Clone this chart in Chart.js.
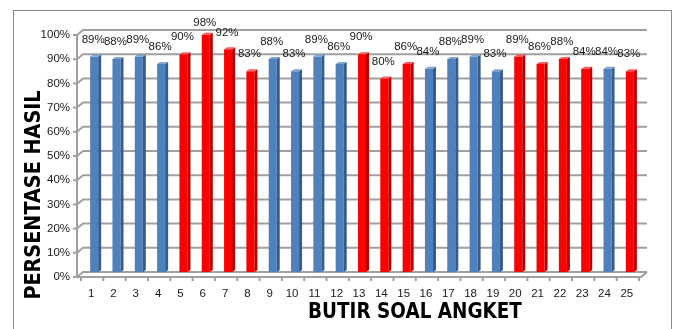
<!DOCTYPE html>
<html>
<head>
<meta charset="utf-8">
<script src="https://cdn.jsdelivr.net/npm/chart.js@4/dist/chart.umd.min.js"></script>
<style>
  html, body { margin: 0; padding: 0; background: #fff; overflow: hidden; }
  #wrap { position: relative; width: 677px; height: 329px; }
  #frame { position: absolute; left: 13px; top: 10px; width: 659px; height: 340px;
           border: 1.5px solid #8a8a8a; box-sizing: border-box; }
  canvas { position: absolute; left: 0; top: 0; }
</style>
</head>
<body>
<div id="wrap">
  <div id="frame"></div>
  <canvas id="c" width="677" height="329"></canvas>
</div>
<script>
// Butir soal angket 1..25
const categories = ['1','2','3','4','5','6','7','8','9','10','11','12','13','14','15','16','17','18','19','20','21','22','23','24','25'];
// Persentase hasil per butir (%)
const percentValues = [89, 88, 89, 86, 90, 98, 92, 83, 88, 83, 89, 86, 90, 80, 86, 84, 88, 89, 83, 89, 86, 88, 84, 84, 83];
// Kelompok warna per butir: 'b' = biru, 'r' = merah
const groups = ['b','b','b','b','r','r','r','r','b','b','b','b','r','r','r','b','b','b','b','r','r','r','r','b','r'];
const yTickValues = [0, 10, 20, 30, 40, 50, 60, 70, 80, 90, 100];

const palette = {
  b: { front: '#4F81BD', side: '#375C8C', top: '#7FA3D0' },
  r: { front: '#FF0000', side: '#B80000', top: '#FF5A5A' }
};

const DEPTH_X = 6, DEPTH_Y = 5;
const FONT = '"Liberation Sans", Arial, sans-serif';
const TITLE_FONT = 'bold 20px "DejaVu Sans", sans-serif';

const pseudo3d = {
  id: 'pseudo3d',
  beforeDatasetsDraw(chart) {
    const { ctx, chartArea: a, scales: { y } } = chart;
    ctx.save();
    ctx.strokeStyle = '#A0A0A0';
    ctx.lineWidth = 2;
    // back wall grid lines and left wall diagonals
    yTickValues.forEach(v => {
      const py = y.getPixelForValue(v);
      ctx.beginPath();
      ctx.moveTo(a.left - DEPTH_X, py + DEPTH_Y);
      ctx.lineTo(a.left, py);
      ctx.lineTo(a.right + DEPTH_X, py);
      ctx.stroke();
      // small tick on the axis
      ctx.beginPath();
      ctx.moveTo(a.left - DEPTH_X - 4, py + DEPTH_Y);
      ctx.lineTo(a.left - DEPTH_X, py + DEPTH_Y);
      ctx.stroke();
    });
    // vertical axis line
    ctx.beginPath();
    ctx.moveTo(a.left - DEPTH_X, y.getPixelForValue(100) + DEPTH_Y);
    ctx.lineTo(a.left - DEPTH_X, a.bottom + DEPTH_Y);
    ctx.stroke();
    // floor front edge and right side
    ctx.beginPath();
    ctx.moveTo(a.left - DEPTH_X, a.bottom + DEPTH_Y);
    ctx.lineTo(a.right, a.bottom + DEPTH_Y);
    ctx.lineTo(a.right + DEPTH_X, a.bottom);
    ctx.stroke();
    ctx.restore();
  },
  afterDatasetsDraw(chart) {
    const { ctx, chartArea: a, scales: { x } } = chart;
    const meta = chart.getDatasetMeta(0);
    ctx.save();
    meta.data.forEach((bar, i) => {
      const col = palette[groups[i]];
      const half = bar.width / 2;
      const r = bar.x + half, l = bar.x - half;
      const d = 3, dy = 2;
      // side face
      ctx.fillStyle = col.side;
      ctx.beginPath();
      ctx.moveTo(r, bar.y);
      ctx.lineTo(r + d, bar.y - dy);
      ctx.lineTo(r + d, bar.base - dy);
      ctx.lineTo(r, bar.base);
      ctx.closePath();
      ctx.fill();
      // top face
      ctx.fillStyle = col.top;
      ctx.beginPath();
      ctx.moveTo(l, bar.y);
      ctx.lineTo(l + d, bar.y - dy);
      ctx.lineTo(r + d, bar.y - dy);
      ctx.lineTo(r, bar.y);
      ctx.closePath();
      ctx.fill();
      // value label
      ctx.fillStyle = '#1a1a1a';
      ctx.font = '11.5px ' + FONT;
      ctx.textAlign = 'center';
      ctx.textBaseline = 'middle';
      ctx.fillText(percentValues[i] + '%', bar.x - 1, Math.max(bar.y - 17, 23));
    });
    // category tick marks on the floor front edge
    ctx.strokeStyle = '#A0A0A0';
    ctx.lineWidth = 2;
    const step = x.getPixelForTick(1) - x.getPixelForTick(0);
    for (let i = 0; i <= categories.length; i++) {
      const px = x.getPixelForTick(0) - step / 2 + i * step - 2;
      ctx.beginPath();
      ctx.moveTo(px, a.bottom + DEPTH_Y);
      ctx.lineTo(px, a.bottom + DEPTH_Y + 4);
      ctx.stroke();
    }
    // axis titles
    ctx.fillStyle = '#000';
    ctx.font = TITLE_FONT;
    ctx.textAlign = 'center';
    ctx.textBaseline = 'middle';
    ctx.save();
    ctx.translate(415, 313);
    ctx.scale(0.92, 1.02);
    ctx.fillText('BUTIR SOAL ANGKET', 0, 0);
    ctx.restore();
    ctx.translate(35, 195);
    ctx.rotate(-Math.PI / 2);
    ctx.scale(0.96, 1.05);
    ctx.fillText('PERSENTASE HASIL', 0, 0);
    ctx.restore();
  }
};

new Chart(document.getElementById('c'), {
  type: 'bar',
  data: {
    labels: categories,
    datasets: [{
      data: percentValues,
      backgroundColor: groups.map(g => palette[g].front),
      borderWidth: 0,
      barPercentage: 0.36,
      categoryPercentage: 1.0
    }]
  },
  options: {
    responsive: false,
    animation: false,
    events: [],
    layout: { padding: { left: 0, right: 36, top: 30, bottom: 0 } },
    plugins: { legend: { display: false }, tooltip: { enabled: false } },
    scales: {
      x: {
        grid: { display: false, drawTicks: false },
        border: { display: false },
        ticks: {
          color: '#1a1a1a', font: { size: 11.5, family: FONT },
          padding: 15, labelOffset: -3, maxRotation: 0, autoSkip: false
        },
        afterFit(s) { s.height = 329 - 272; }
      },
      y: {
        min: 0, max: 100,
        grid: { display: false, drawTicks: false },
        border: { display: false },
        afterBuildTicks(s) { s.ticks = yTickValues.map(v => ({ value: v })); },
        ticks: {
          color: '#1a1a1a', font: { size: 11.5, family: FONT },
          padding: 13, labelOffset: 5,
          callback: v => v + '%'
        },
        afterFit(s) { s.width = 83; }
      }
    }
  },
  plugins: [pseudo3d]
});
</script>
</body>
</html>
